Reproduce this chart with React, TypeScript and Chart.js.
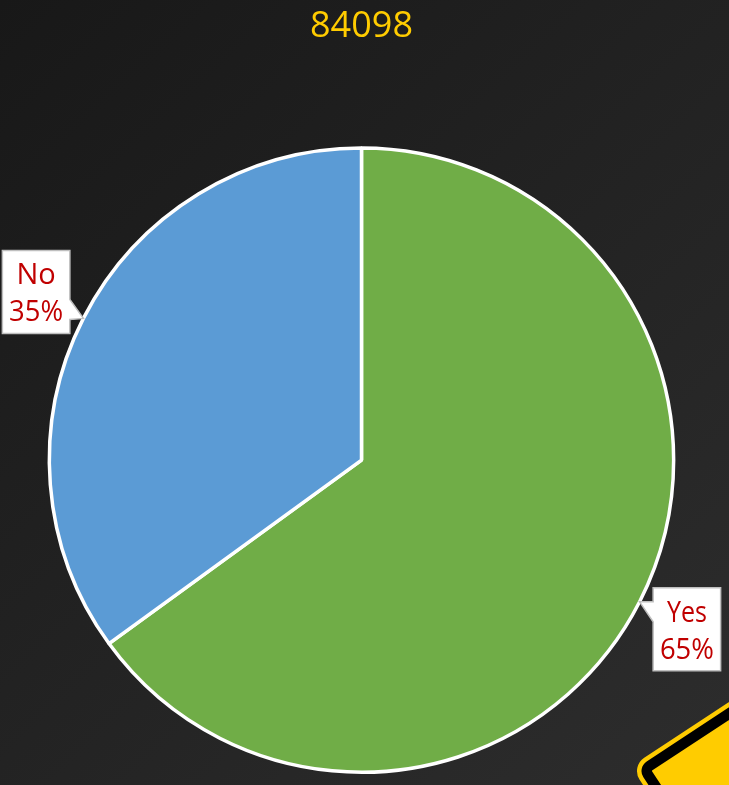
import React, { useEffect, useRef } from "react";
import { Chart, registerables } from "chart.js";

Chart.register(...registerables);

const categories = ["Yes", "No"];
const values = [65, 35];
const colors = ["#70AD47", "#5B9BD5"];
const titleText = "84098";
const labelFont = "29px 'Open Sans'";

const backgroundPlugin = {
  id: "bg",
  beforeDraw(chart: any) {
    const { ctx, width, height } = chart;
    const g = ctx.createLinearGradient(0, 0, width, height);
    g.addColorStop(0, "#181818");
    g.addColorStop(1, "#2d2d2d");
    ctx.save();
    ctx.fillStyle = g;
    ctx.fillRect(0, 0, width, height);
    // warning sign corner
    ctx.beginPath();
    ctx.moveTo(790, 681);
    ctx.lineTo(653, 771);
    ctx.lineTo(690, 827);
    ctx.lineTo(790, 850);
    ctx.closePath();
    ctx.lineJoin = "round";
    ctx.strokeStyle = "#FFCC00";
    ctx.lineWidth = 32;
    ctx.stroke();
    ctx.strokeStyle = "#000000";
    ctx.lineWidth = 23;
    ctx.stroke();
    ctx.strokeStyle = "#FFCC00";
    ctx.lineWidth = 2;
    ctx.fillStyle = "#FFCC00";
    ctx.fill();
    ctx.stroke();
    ctx.restore();
  },
};

const calloutPlugin = {
  id: "callouts",
  afterDatasetsDraw(chart: any) {
    const { ctx } = chart;
    const arcs = chart.getDatasetMeta(0).data;
    const total = values.reduce((a, b) => a + b, 0);
    arcs.forEach((arc: any, i: number) => {
      const p = arc.getProps(["x", "y", "startAngle", "endAngle", "outerRadius"], true);
      const mid = (p.startAngle + p.endAngle) / 2;
      const tx = p.x + Math.cos(mid) * p.outerRadius;
      const ty = p.y + Math.sin(mid) * p.outerRadius;
      const left = Math.cos(mid) < 0;
      const bw = 67.5;
      const bh = 83;
      const bx = left ? tx - 81 : tx + 13.5;
      const by = left ? ty - 68 : ty - 14;
      const nx = left ? bx + bw : bx;
      const n1 = left ? by + 49 : by + 14;
      const n2 = left ? by + 69 : by + 34;
      ctx.save();
      ctx.beginPath();
      ctx.moveTo(bx, by);
      ctx.lineTo(bx + bw, by);
      if (!left) {
        ctx.lineTo(bx + bw, by + bh);
        ctx.lineTo(bx, by + bh);
        ctx.lineTo(nx, n2);
        ctx.lineTo(tx, ty);
        ctx.lineTo(nx, n1);
      } else {
        ctx.lineTo(nx, n1);
        ctx.lineTo(tx, ty);
        ctx.lineTo(nx, n2);
        ctx.lineTo(bx + bw, by + bh);
        ctx.lineTo(bx, by + bh);
      }
      ctx.closePath();
      ctx.fillStyle = "#FFFFFF";
      ctx.fill();
      ctx.strokeStyle = "#BFBFBF";
      ctx.lineWidth = 1.5;
      ctx.stroke();
      ctx.fillStyle = "#C00000";
      ctx.font = labelFont;
      ctx.textAlign = "center";
      ctx.textBaseline = "middle";
      ctx.fillText(categories[i], bx + bw / 2, by + 25.5, 40);
      ctx.fillText(Math.round((values[i] / total) * 100) + "%", bx + bw / 2, by + 62.5, 54);
      ctx.restore();
    });
  },
};

export default function App() {
  const ref = useRef<HTMLCanvasElement>(null);
  useEffect(() => {
    const chart = new Chart(ref.current!, {
      type: "pie",
      data: {
        labels: categories,
        datasets: [
          {
            data: values,
            backgroundColor: colors,
            borderColor: "#FFFFFF",
            borderWidth: 3.5,
            hoverOffset: 0,
          },
        ],
      },
      options: {
        responsive: false,
        animation: false,
        layout: { padding: { left: 47, right: 53, top: 0, bottom: 11 } },
        plugins: {
          legend: { display: false },
          tooltip: { enabled: false },
          title: {
            display: true,
            text: titleText,
            color: "#FFCC00",
            fullSize: false,
            font: { family: "'Open Sans'", size: 36, weight: "400" as any },
            padding: { top: 5, bottom: 98 },
          },
        },
      },
      plugins: [backgroundPlugin, calloutPlugin],
    });
    return () => chart.destroy();
  }, []);
  return (
    <div style={{ position: "absolute", left: 0, top: 0, width: 729, height: 785, overflow: "hidden" }}>
      <canvas ref={ref} width={729} height={785} style={{ display: "block" }} />
    </div>
  );
}
